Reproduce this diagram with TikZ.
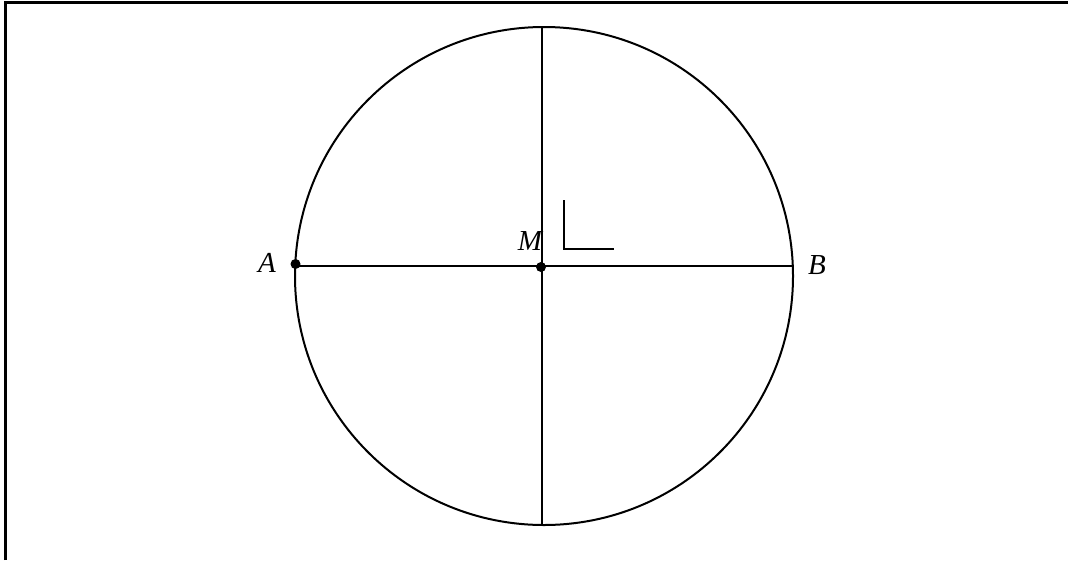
\documentclass[tikz,border=0pt]{standalone}
\usepackage{fontspec}
\setmainfont{Liberation Serif}
\begin{document}
\begin{tikzpicture}[x=1pt,y=-1pt,
  ln/.style={line width=2pt},
  frame/.style={line width=3pt},
  pt/.style={circle,fill=black,inner sep=0pt,minimum size=10pt},
  lbl/.style={font=\fontsize{29}{29}\selectfont\itshape,inner sep=0pt}]
\useasboundingbox (0,0) rectangle (1068,560);
% frame (top and left edges only)
\coordinate (f1) at (5.3,560);
\coordinate (f2) at (5.3,2.6);
\coordinate (f3) at (1068,2.6);
\draw[frame] (f1) -- (f2) -- (f3);
% circle
\coordinate (O) at (544,276);
\draw[ln] (O) circle[radius=249];
% points
\node[pt] (A) at (295.5,264) {};
\node[pt] (M) at (541,267) {};
\coordinate (A1) at (295.5,266);
\coordinate (B) at (792.5,266);
\coordinate (T) at (542,27);
\coordinate (D) at (542,525);
\draw[ln] (A1) -- (B);
\draw[ln] (T) -- (D);
% right angle mark
\coordinate (r1) at (563.5,200);
\coordinate (r2) at (563.5,249);
\coordinate (r3) at (614,249);
\draw[ln] (r1) -- (r2) -- (r3);
% labels
\node[lbl] (lA) at (267,263) {A};
\node[lbl] (lM) at (530,241) {M};
\node[lbl] (lB) at (817,265) {B};
\end{tikzpicture}
\end{document}
